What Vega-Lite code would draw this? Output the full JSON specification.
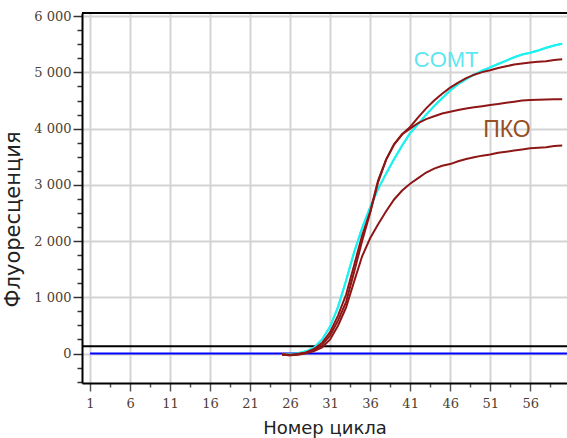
{
  "$schema": "https://vega.github.io/schema/vega-lite/v6.json",
  "width": 485,
  "height": 370,
  "autosize": {"type": "none"},
  "padding": {"left": 82, "top": 13, "right": 0, "bottom": 55},
  "background": "white",
  "config": {"view": {"stroke": null}},
  "datasets": {
    "curves": [
      {"s": "COMT", "c": 25, "v": -10}, {"s": "COMT", "c": 26, "v": -10}, {"s": "COMT", "c": 27, "v": 5}, {"s": "COMT", "c": 28, "v": 40},
      {"s": "COMT", "c": 29, "v": 110}, {"s": "COMT", "c": 30, "v": 250}, {"s": "COMT", "c": 31, "v": 480}, {"s": "COMT", "c": 32, "v": 830},
      {"s": "COMT", "c": 33, "v": 1300}, {"s": "COMT", "c": 34, "v": 1800}, {"s": "COMT", "c": 35, "v": 2230}, {"s": "COMT", "c": 36, "v": 2600},
      {"s": "COMT", "c": 37, "v": 2930}, {"s": "COMT", "c": 38, "v": 3200}, {"s": "COMT", "c": 39, "v": 3460}, {"s": "COMT", "c": 40, "v": 3700},
      {"s": "COMT", "c": 41, "v": 3920}, {"s": "COMT", "c": 42, "v": 4080}, {"s": "COMT", "c": 43, "v": 4250}, {"s": "COMT", "c": 44, "v": 4400},
      {"s": "COMT", "c": 45, "v": 4540}, {"s": "COMT", "c": 46, "v": 4680}, {"s": "COMT", "c": 47, "v": 4790}, {"s": "COMT", "c": 48, "v": 4880},
      {"s": "COMT", "c": 49, "v": 4960}, {"s": "COMT", "c": 50, "v": 5030}, {"s": "COMT", "c": 51, "v": 5090}, {"s": "COMT", "c": 52, "v": 5150},
      {"s": "COMT", "c": 53, "v": 5210}, {"s": "COMT", "c": 54, "v": 5270}, {"s": "COMT", "c": 55, "v": 5320}, {"s": "COMT", "c": 56, "v": 5350},
      {"s": "COMT", "c": 57, "v": 5390}, {"s": "COMT", "c": 58, "v": 5440}, {"s": "COMT", "c": 59, "v": 5480}, {"s": "COMT", "c": 60, "v": 5510},

      {"s": "R1", "c": 25, "v": -20}, {"s": "R1", "c": 26, "v": -30}, {"s": "R1", "c": 27, "v": -10}, {"s": "R1", "c": 28, "v": 20},
      {"s": "R1", "c": 29, "v": 80}, {"s": "R1", "c": 30, "v": 190}, {"s": "R1", "c": 31, "v": 380}, {"s": "R1", "c": 32, "v": 680},
      {"s": "R1", "c": 33, "v": 1050}, {"s": "R1", "c": 34, "v": 1570}, {"s": "R1", "c": 35, "v": 2100}, {"s": "R1", "c": 36, "v": 2520},
      {"s": "R1", "c": 37, "v": 3080}, {"s": "R1", "c": 38, "v": 3450}, {"s": "R1", "c": 39, "v": 3720}, {"s": "R1", "c": 40, "v": 3900},
      {"s": "R1", "c": 41, "v": 4030}, {"s": "R1", "c": 42, "v": 4200}, {"s": "R1", "c": 43, "v": 4360}, {"s": "R1", "c": 44, "v": 4500},
      {"s": "R1", "c": 45, "v": 4620}, {"s": "R1", "c": 46, "v": 4730}, {"s": "R1", "c": 47, "v": 4820}, {"s": "R1", "c": 48, "v": 4900},
      {"s": "R1", "c": 49, "v": 4960}, {"s": "R1", "c": 50, "v": 5005}, {"s": "R1", "c": 51, "v": 5040}, {"s": "R1", "c": 52, "v": 5080},
      {"s": "R1", "c": 53, "v": 5110}, {"s": "R1", "c": 54, "v": 5140}, {"s": "R1", "c": 55, "v": 5160}, {"s": "R1", "c": 56, "v": 5175},
      {"s": "R1", "c": 57, "v": 5190}, {"s": "R1", "c": 58, "v": 5200}, {"s": "R1", "c": 59, "v": 5220}, {"s": "R1", "c": 60, "v": 5235},

      {"s": "R2", "c": 25, "v": -10}, {"s": "R2", "c": 26, "v": -20}, {"s": "R2", "c": 27, "v": -10}, {"s": "R2", "c": 28, "v": 15},
      {"s": "R2", "c": 29, "v": 60}, {"s": "R2", "c": 30, "v": 150}, {"s": "R2", "c": 31, "v": 320}, {"s": "R2", "c": 32, "v": 590},
      {"s": "R2", "c": 33, "v": 920}, {"s": "R2", "c": 34, "v": 1450}, {"s": "R2", "c": 35, "v": 2000}, {"s": "R2", "c": 36, "v": 2500},
      {"s": "R2", "c": 37, "v": 3050}, {"s": "R2", "c": 38, "v": 3450}, {"s": "R2", "c": 39, "v": 3720}, {"s": "R2", "c": 40, "v": 3900},
      {"s": "R2", "c": 41, "v": 4000}, {"s": "R2", "c": 42, "v": 4100}, {"s": "R2", "c": 43, "v": 4170}, {"s": "R2", "c": 44, "v": 4220},
      {"s": "R2", "c": 45, "v": 4270}, {"s": "R2", "c": 46, "v": 4300}, {"s": "R2", "c": 47, "v": 4330}, {"s": "R2", "c": 48, "v": 4360},
      {"s": "R2", "c": 49, "v": 4380}, {"s": "R2", "c": 50, "v": 4400}, {"s": "R2", "c": 51, "v": 4420}, {"s": "R2", "c": 52, "v": 4440},
      {"s": "R2", "c": 53, "v": 4460}, {"s": "R2", "c": 54, "v": 4480}, {"s": "R2", "c": 55, "v": 4500}, {"s": "R2", "c": 56, "v": 4510},
      {"s": "R2", "c": 57, "v": 4515}, {"s": "R2", "c": 58, "v": 4520}, {"s": "R2", "c": 59, "v": 4522}, {"s": "R2", "c": 60, "v": 4525},

      {"s": "R3", "c": 25, "v": -20}, {"s": "R3", "c": 26, "v": -30}, {"s": "R3", "c": 27, "v": -20}, {"s": "R3", "c": 28, "v": 5},
      {"s": "R3", "c": 29, "v": 45}, {"s": "R3", "c": 30, "v": 110}, {"s": "R3", "c": 31, "v": 250}, {"s": "R3", "c": 32, "v": 500},
      {"s": "R3", "c": 33, "v": 820}, {"s": "R3", "c": 34, "v": 1280}, {"s": "R3", "c": 35, "v": 1730}, {"s": "R3", "c": 36, "v": 2050},
      {"s": "R3", "c": 37, "v": 2300}, {"s": "R3", "c": 38, "v": 2530}, {"s": "R3", "c": 39, "v": 2740}, {"s": "R3", "c": 40, "v": 2900},
      {"s": "R3", "c": 41, "v": 3020}, {"s": "R3", "c": 42, "v": 3120}, {"s": "R3", "c": 43, "v": 3220}, {"s": "R3", "c": 44, "v": 3290},
      {"s": "R3", "c": 45, "v": 3340}, {"s": "R3", "c": 46, "v": 3370}, {"s": "R3", "c": 47, "v": 3420}, {"s": "R3", "c": 48, "v": 3460},
      {"s": "R3", "c": 49, "v": 3490}, {"s": "R3", "c": 50, "v": 3520}, {"s": "R3", "c": 51, "v": 3540}, {"s": "R3", "c": 52, "v": 3570},
      {"s": "R3", "c": 53, "v": 3590}, {"s": "R3", "c": 54, "v": 3610}, {"s": "R3", "c": 55, "v": 3630}, {"s": "R3", "c": 56, "v": 3650},
      {"s": "R3", "c": 57, "v": 3660}, {"s": "R3", "c": 58, "v": 3670}, {"s": "R3", "c": 59, "v": 3690}, {"s": "R3", "c": 60, "v": 3700}
    ],
    "baseline": [{"c": 1, "c2": 60.6, "v": 0}],
    "threshold": [{"v": 130}],
    "frame": [{"v": 6057}],
    "labels": [
      {"t": "COMT", "c": 45.5, "v": 5100},
      {"t": "ПКО", "c": 53.1, "v": 3860}
    ]
  },
  "layer": [
    {
      "data": {"name": "curves"},
      "transform": [{"filter": "datum.s == 'COMT'"}],
      "mark": {"type": "line", "color": "#1ff0f0", "strokeWidth": 2},
      "encoding": {
        "x": {
          "field": "c", "type": "quantitative",
          "scale": {"domain": [0, 60.6], "nice": false, "zero": false},
          "axis": {
            "values": [1, 3.5, 6, 8.5, 11, 13.5, 16, 18.5, 21, 23.5, 26, 28.5, 31, 33.5, 36, 38.5, 41, 43.5, 46, 48.5, 51, 53.5, 56, 58.5],
            "tickCount": 200,
            "title": "Номер цикла",
            "titleFont": "DejaVu Sans", "titleFontSize": 18, "titleFontWeight": "normal", "titleColor": "#222222",
            "titleBaseline": "alphabetic", "titleY": 50,
            "labelFont": "DejaVu Serif", "labelFontSize": 13, "labelColor": "#4d4033",
            "labelExpr": "(datum.value - 1) % 5 == 0 ? datum.value : ''",
            "labelPadding": 6, "labelOverlap": false, "labelFlush": false,
            "tickSize": {"condition": {"test": "(datum.value - 1) % 5 == 0", "value": 8}, "value": 4},
            "tickColor": "#555555", "tickWidth": 1.5,
            "domainColor": "black", "domainWidth": 2,
            "grid": true, "gridColor": "#d4d4d4", "gridWidth": 2,
            "gridOpacity": {"condition": {"test": "(datum.value - 1) % 5 == 0", "value": 1}, "value": 0}
          }
        },
        "y": {
          "field": "v", "type": "quantitative",
          "scale": {"domain": [-524, 6057], "nice": false, "zero": false},
          "axis": {
            "values": [-500, -250, 0, 250, 500, 750, 1000, 1250, 1500, 1750, 2000, 2250, 2500, 2750, 3000, 3250, 3500, 3750, 4000, 4250, 4500, 4750, 5000, 5250, 5500, 5750, 6000],
            "tickCount": 200,
            "title": "Флуоресценция",
            "titleFont": "DejaVu Sans", "titleFontSize": 21, "titleFontWeight": "normal", "titleColor": "#222222",
            "titleAngle": 270, "titleBaseline": "alphabetic", "titleAlign": "center",
            "titleX": -63, "titleY": 206,
            "labelFont": "DejaVu Serif", "labelFontSize": 13, "labelColor": "#4d4033",
            "labelExpr": "datum.value % 1000 == 0 ? replace(format(datum.value, ','), ',', ' ') : ''",
            "labelPadding": 2, "labelOverlap": false, "labelFlush": false,
            "tickSize": {"condition": {"test": "datum.value % 1000 == 0", "value": 9}, "value": 5},
            "tickColor": "#333333", "tickWidth": 1.5,
            "domainColor": "black", "domainWidth": 2,
            "grid": true, "gridColor": "#d4d4d4", "gridWidth": 2,
            "gridOpacity": {"condition": {"test": "datum.value % 1000 == 0", "value": 1}, "value": 0}
          }
        }
      }
    },
    {
      "data": {"name": "threshold"},
      "mark": {"type": "rule", "color": "black", "strokeWidth": 2},
      "encoding": {"y": {"field": "v", "type": "quantitative"}}
    },
    {
      "data": {"name": "frame"},
      "mark": {"type": "rule", "color": "black", "strokeWidth": 2},
      "encoding": {"y": {"field": "v", "type": "quantitative"}}
    },
    {
      "data": {"name": "baseline"},
      "mark": {"type": "rule", "color": "#0000ff", "strokeWidth": 2},
      "encoding": {
        "x": {"field": "c", "type": "quantitative"},
        "x2": {"field": "c2"},
        "y": {"field": "v", "type": "quantitative"}
      }
    },
    {
      "data": {"name": "curves"},
      "transform": [{"filter": "datum.s == 'COMT'"}],
      "mark": {"type": "line", "color": "#1ff0f0", "strokeWidth": 2},
      "encoding": {
        "x": {"field": "c", "type": "quantitative"},
        "y": {"field": "v", "type": "quantitative"}
      }
    },
    {
      "data": {"name": "curves"},
      "transform": [{"filter": "datum.s != 'COMT'"}],
      "mark": {"type": "line", "color": "#8e1616", "strokeWidth": 2},
      "encoding": {
        "x": {"field": "c", "type": "quantitative"},
        "y": {"field": "v", "type": "quantitative"},
        "detail": {"field": "s"}
      }
    },
    {
      "data": {"name": "labels"},
      "transform": [{"filter": "datum.t == 'COMT'"}],
      "mark": {"type": "text", "color": "#5fe6f2", "font": "Liberation Sans", "fontSize": 22, "baseline": "alphabetic", "align": "center"},
      "encoding": {
        "x": {"field": "c", "type": "quantitative"},
        "y": {"field": "v", "type": "quantitative"},
        "text": {"field": "t"}
      }
    },
    {
      "data": {"name": "labels"},
      "transform": [{"filter": "datum.t == 'ПКО'"}],
      "mark": {"type": "text", "color": "#965024", "font": "Liberation Sans", "fontSize": 23, "baseline": "alphabetic", "align": "center"},
      "encoding": {
        "x": {"field": "c", "type": "quantitative"},
        "y": {"field": "v", "type": "quantitative"},
        "text": {"field": "t"}
      }
    }
  ]
}
